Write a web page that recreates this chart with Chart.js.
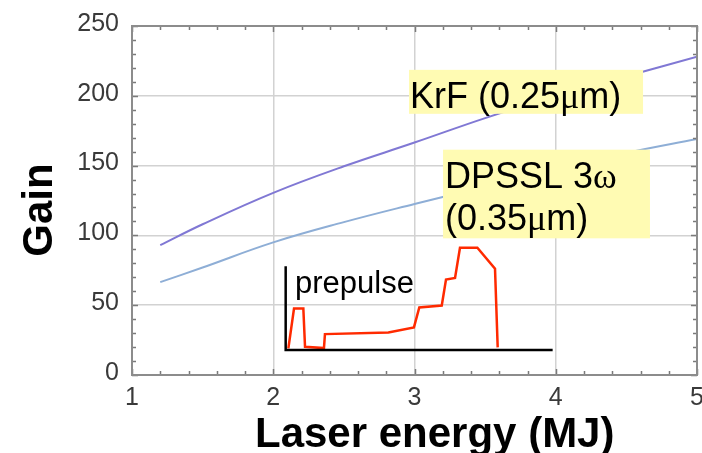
<!DOCTYPE html>
<html><head><meta charset="utf-8">
<script src="https://cdn.jsdelivr.net/npm/chart.js@4"></script>
<style>html,body{margin:0;padding:0;background:#fff;}canvas{display:block}</style>
</head><body>
<div style="width:702px;height:453px"><canvas id="c" width="702" height="453"></canvas></div>
<script>
// ---- data ----
const energyMJ   = [1.2, 1.5, 2, 2.5, 3, 3.5, 4, 4.5, 5];
const krfGain    = [93, 108, 130.5, 149.5, 166.5, 184, 200, 214, 228];
const dpsslGain  = [66.5, 77, 95, 109.5, 122.5, 135, 147, 159, 169];
const prepulseX  = [2.107, 2.147, 2.213, 2.225, 2.359, 2.366, 2.815, 2.996, 3.034, 3.193, 3.223, 3.287, 3.322, 3.445, 3.570, 3.589];
const prepulseY  = [19.1, 47.6, 47.6, 20.2, 19.3, 29.3, 30.5, 34.1, 48.4, 49.8, 68.4, 69.5, 91.2, 91.2, 76.2, 19.8];
const insetAxisX = [2.088, 2.088, 3.978];
const insetAxisY = [77.9, 17.9, 17.9];
const xTickValues = [1, 2, 3, 4, 5];
const yTickValues = [0, 50, 100, 150, 200, 250];
const xTitle = 'Laser energy (MJ)';
const yTitle = 'Gain';
const krfLabel = [['KrF (0.25', 's'], ['μ', 'g'], ['m)', 's']];
const dpsslLabel1 = [['DPSSL 3', 's'], ['ω', 'g']];
const dpsslLabel2 = [['(0.35', 's'], ['μ', 'g'], ['m)', 's']];
const prepulseLabel = 'prepulse';

const pts = (xs, ys) => xs.map((x, i) => ({x, y: ys[i]}));
const SANS = '"Liberation Sans", Arial, Helvetica, sans-serif';
const GREEK = '"Liberation Serif", "DejaVu Serif", serif';

function drawRuns(ctx, runs, x, y, size) {
  let cx = x;
  ctx.textBaseline = 'alphabetic';
  ctx.textAlign = 'left';
  for (const [t, f] of runs) {
    ctx.font = size + 'px ' + (f === 'g' ? GREEK : SANS);
    ctx.fillText(t, cx, y);
    cx += ctx.measureText(t).width;
  }
}

const framePlugin = {
  id: 'frame',
  afterDatasetsDraw(chart) {
    const {ctx, chartArea: a, scales: {x, y}} = chart;
    ctx.save();
    // minor inward ticks
    ctx.strokeStyle = '#7a7a7a';
    ctx.lineWidth = 1.5;
    ctx.beginPath();
    for (let v = 0; v <= 250; v += 10) {
      const py = Math.round(y.getPixelForValue(v)) + 0.5;
      const len = v % 50 === 0 ? 6 : 4;
      ctx.moveTo(a.left, py); ctx.lineTo(a.left + len, py);
      ctx.moveTo(a.right, py); ctx.lineTo(a.right - len, py);
    }
    for (let i = 0; i <= 20; i++) {
      const v = 1 + i * 0.2;
      const px = Math.round(x.getPixelForValue(v)) + 0.5;
      const len = i % 5 === 0 ? 6 : 4;
      ctx.moveTo(px, a.bottom); ctx.lineTo(px, a.bottom - len);
      ctx.moveTo(px, a.top); ctx.lineTo(px, a.top + len);
    }
    ctx.stroke();
    // frame
    ctx.strokeStyle = '#8c8c8c';
    ctx.lineWidth = 2;
    ctx.strokeRect(a.left, a.top, a.right - a.left, a.bottom - a.top);

    // annotation boxes
    ctx.fillStyle = '#fffbb3';
    const box = (x0, y0, x1, y1) => {
      const l = x.getPixelForValue(x0), r = x.getPixelForValue(x1);
      const t = y.getPixelForValue(y0), b = y.getPixelForValue(y1);
      ctx.fillRect(l, t, r - l, b - t);
    };
    box(2.961, 218.6, 4.618, 187.1);
    box(3.202, 161.4, 4.667, 97.9);
    ctx.fillStyle = '#000';
    drawRuns(ctx, krfLabel, x.getPixelForValue(2.968), y.getPixelForValue(191.4), 36);
    drawRuns(ctx, dpsslLabel1, x.getPixelForValue(3.216), y.getPixelForValue(134.3), 36);
    drawRuns(ctx, dpsslLabel2, x.getPixelForValue(3.216), y.getPixelForValue(103.6), 36);
    ctx.font = '31px ' + SANS;
    ctx.fillText(prepulseLabel, x.getPixelForValue(2.154), y.getPixelForValue(58.6));

    // axis titles
    ctx.font = 'bold 42px ' + SANS;
    ctx.fillText(xTitle, 255, 447);
    ctx.translate(52, 210);
    ctx.rotate(-Math.PI / 2);
    ctx.textAlign = 'center';
    ctx.fillText(yTitle, 0, 0);
    ctx.restore();
  }
};

new Chart(document.getElementById('c'), {
  type: 'scatter',
  data: {
    datasets: [
      {data: pts(energyMJ, krfGain), showLine: true, borderColor: '#8078d4', borderWidth: 2, pointRadius: 0, tension: 0.4},
      {data: pts(energyMJ, dpsslGain), showLine: true, borderColor: '#8eaed6', borderWidth: 2, pointRadius: 0, tension: 0.4},
      {data: pts(insetAxisX, insetAxisY), showLine: true, borderColor: '#000', borderWidth: 2.5, pointRadius: 0, tension: 0},
      {data: pts(prepulseX, prepulseY), showLine: true, borderColor: '#ff2a00', borderWidth: 2.5, pointRadius: 0, tension: 0}
    ]
  },
  options: {
    responsive: false,
    animation: false,
    devicePixelRatio: 1,
    layout: {padding: {top: 26, right: 5, left: 0, bottom: 0}},
    plugins: {legend: {display: false}, tooltip: {enabled: false}},
    scales: {
      x: {
        type: 'linear', min: 1, max: 5,
        afterBuildTicks: s => { s.ticks = xTickValues.map(v => ({value: v})); },
        afterFit: s => { s.height = 78; s.paddingLeft = 0; s.paddingRight = 0; },
        grid: {color: '#d2d2d2', lineWidth: 1.5, drawTicks: false},
        border: {display: false},
        ticks: {font: {family: SANS, size: 25}, color: '#3a3a3a', padding: 8, maxRotation: 0, autoSkip: false}
      },
      y: {
        type: 'linear', min: 0, max: 250,
        afterBuildTicks: s => { s.ticks = yTickValues.map(v => ({value: v})); },
        afterFit: s => { s.width = 132; s.paddingTop = 0; s.paddingBottom = 0; },
        grid: {color: '#d2d2d2', lineWidth: 1.5, drawTicks: false},
        border: {display: false},
        ticks: {font: {family: SANS, size: 25}, color: '#3a3a3a', padding: 13, labelOffset: -2}
      }
    }
  },
  plugins: [framePlugin]
});
</script>
</body></html>
